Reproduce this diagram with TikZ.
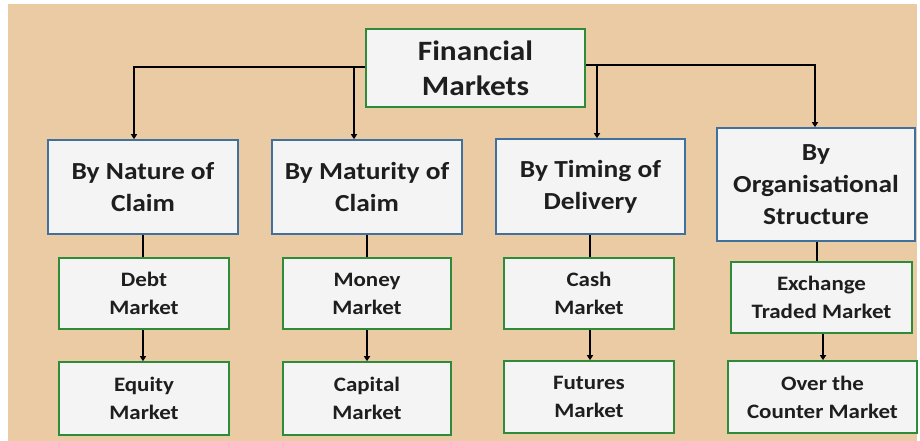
\documentclass[tikz,border=0pt]{standalone}
\usepackage{fontspec}
\setmainfont{Carlito}[FakeStretch=1.12]
\usetikzlibrary{arrows.meta}
\definecolor{bgtan}{HTML}{EBCBA3}
\definecolor{boxfill}{HTML}{F4F4F4}
\definecolor{bluebd}{HTML}{41709C}
\definecolor{greenbd}{HTML}{2E8B3A}
\definecolor{txt}{HTML}{1E1E1E}
\tikzset{
  box/.style={draw, fill=boxfill, line width=1.6pt, align=center, inner sep=0pt, text=txt, font=\bfseries},
  topbox/.style={box, draw=greenbd, minimum width=219pt, minimum height=78pt, font=\bfseries\fontsize{28}{35}\selectfont},
  catbox/.style={box, draw=bluebd, font=\bfseries\fontsize{24.5}{32}\selectfont},
  mktbox/.style={box, draw=greenbd, minimum width=170pt, minimum height=71pt, font=\bfseries\fontsize{20.5}{28}\selectfont},
  conn/.style={line width=1.6pt, black},
  arr/.style={conn, -{Triangle[width=6pt,length=5pt]}}
}
\begin{document}
\begin{tikzpicture}[x=1pt,y=-1pt]
\useasboundingbox (0,0) rectangle (920,441);
\fill[white] (0,0) rectangle (920,441);
\fill[bgtan] (8,4) rectangle (917,441);

\node[topbox] (top) at (475.5,68) {Financial\\Markets};

\node[catbox, minimum width=190pt, minimum height=94pt] (c1) at (143,187) {By Nature of\\Claim};
\node[catbox, minimum width=190pt, minimum height=94pt] (c2) at (367,187) {By Maturity of\\Claim};
\node[catbox, minimum width=189pt, minimum height=95pt] (c3) at (590.5,186.5) {By Timing of\\Delivery};
\node[catbox, minimum width=198pt, minimum height=113pt] (c4) at (816,184.5) {By\\Organisational\\Structure};

\node[mktbox] (m1) at (144,293.5) {Debt\\Market};
\node[mktbox, minimum width=168pt] (m2) at (367,293.5) {Money\\Market};
\node[mktbox] (m3) at (589,293.5) {Cash\\Market};
\node[mktbox, minimum width=181pt] (m4) at (821.5,297.5) {Exchange\\Traded Market};

\node[mktbox, minimum height=73pt] (n1) at (144,398.5) {Equity\\Market};
\node[mktbox, minimum width=168pt, minimum height=73pt] (n2) at (367,398.5) {Capital\\Market};
\node[mktbox, minimum height=72pt] (n3) at (589,397) {Futures\\Market};
\node[mktbox, minimum width=189pt, minimum height=72pt] (n4) at (822.5,397) {Over the\\Counter Market};

% top connectors
\coordinate (jl) at (134,67);
\coordinate (jr) at (815,65);
\coordinate (jm) at (354,67);
\coordinate (jn) at (597,65);
\draw[arr] (top.west |- jl) -- (jl) -- (jl |- c1.north);
\draw[arr] (jm) -- (jm |- c2.north);
\draw[arr] (top.east |- jr) -- (jr) -- (jr |- c4.north);
\draw[arr] (jn) -- (jn |- c3.north);

% category to first market
\coordinate (x1) at (143,0);
\coordinate (x2) at (367,0);
\coordinate (x3) at (590,0);
\coordinate (x4) at (817,0);
\coordinate (x5) at (823,0);
\draw[conn] (x1 |- c1.south) -- (x1 |- m1.north);
\draw[conn] (x2 |- c2.south) -- (x2 |- m2.north);
\draw[conn] (x3 |- c3.south) -- (x3 |- m3.north);
\draw[conn] (x4 |- c4.south) -- (x4 |- m4.north);

% first market to second
\draw[arr] (x1 |- m1.south) -- (x1 |- n1.north);
\draw[arr] (x2 |- m2.south) -- (x2 |- n2.north);
\draw[arr] (x3 |- m3.south) -- (x3 |- n3.north);
\draw[arr] (x5 |- m4.south) -- (x5 |- n4.north);
\end{tikzpicture}
\end{document}
